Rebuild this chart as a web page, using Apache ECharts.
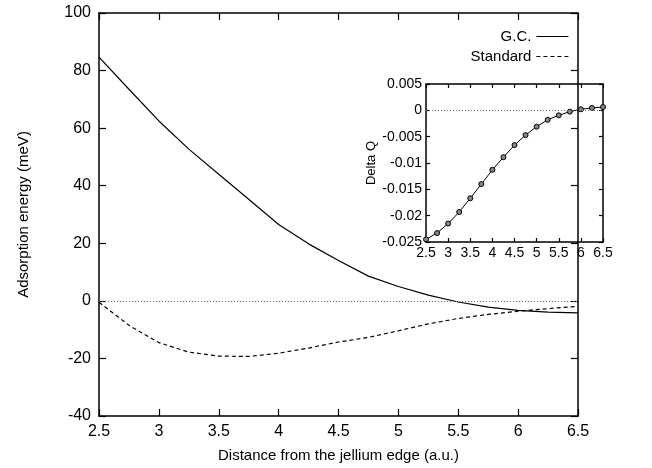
<!DOCTYPE html>
<html>
<head>
<meta charset="utf-8">
<script src="https://cdn.jsdelivr.net/npm/echarts@6/dist/echarts.min.js"></script>
<style>
  html, body { margin: 0; padding: 0; background: #fff; }
  #chart { width: 652px; height: 468px; }
</style>
</head>
<body>
<div id="chart"></div>
<script>
  // main plot: adsorption energy vs distance
  var distance = [2.5, 2.75, 3, 3.25, 3.5, 3.75, 4, 4.25, 4.5, 4.75, 5, 5.25, 5.5, 5.75, 6, 6.25, 6.5];
  var gcEnergy = [84.7, 73.5, 62.5, 52.7, 44, 35.3, 26.5, 19.8, 14, 8.6, 5, 2, -0.4, -2.2, -3.3, -3.9, -4.2];
  var stdEnergy = [-0.5, -8.5, -14.5, -17.8, -19.2, -19.3, -18.2, -16.4, -14.3, -12.7, -10.4, -8, -6.1, -4.7, -3.6, -2.7, -1.9];
  // inset: Delta Q
  var deltaQ = [-0.0245, -0.0233, -0.0215, -0.0193, -0.0167, -0.0140, -0.0113, -0.0089, -0.0066,
                -0.0047, -0.0031, -0.0018, -0.00095, -0.00025, 0.0002, 0.00045, 0.00062];
  var xTicks = { min: 2.5, max: 6.5, step: 0.5 };
  var yTicksMain = { min: -40, max: 100, step: 20 };
  var yTicksInset = { min: -0.025, max: 0.005, step: 0.005 };

  var font = "Liberation Sans, Arial, sans-serif";
  var black = "#000";

  function pairs(xs, ys) {
    return xs.map(function (x, i) { return [x, ys[i]]; });
  }

  function frameAxis(grid, pos, t, labels, fontSize, fmt) {
    return {
      type: "value",
      gridIndex: grid,
      position: pos,
      min: t.min,
      max: t.max,
      interval: t.step,
      axisLine: { show: true, onZero: false, lineStyle: { color: black, width: 1.5 } },
      axisTick: { show: true, inside: true, length: grid === 0 ? 7 : 4, lineStyle: { color: black, width: 1.2 } },
      splitLine: { show: false },
      axisLabel: {
        show: labels,
        color: black,
        fontFamily: font,
        fontSize: fontSize,
        margin: grid === 0 ? 8 : 4,
        showMinLabel: true,
        showMaxLabel: true,
        hideOverlap: false,
        formatter: fmt
      }
    };
  }

  var fmtX = function (v) { return String(+v.toFixed(2)); };
  var fmtQ = function (v) { return String(+v.toFixed(3)); };

  var xAxis = [
    frameAxis(0, "bottom", xTicks, true, 16, fmtX),
    frameAxis(0, "top", xTicks, false, 16, fmtX),
    frameAxis(1, "bottom", xTicks, true, 14, fmtX),
    frameAxis(1, "top", xTicks, false, 14, fmtX)
  ];
  xAxis[0].name = "Distance from the jellium edge (a.u.)";
  xAxis[0].nameLocation = "middle";
  xAxis[0].nameGap = 32;
  xAxis[0].nameTextStyle = { color: black, fontFamily: font, fontSize: 15 };

  var yAxis = [
    frameAxis(0, "left", yTicksMain, true, 16, fmtX),
    frameAxis(0, "right", yTicksMain, false, 16, fmtX),
    frameAxis(1, "left", yTicksInset, true, 14, fmtQ),
    frameAxis(1, "right", yTicksInset, false, 14, fmtQ)
  ];
  yAxis[0].name = "Adsorption energy (meV)";
  yAxis[0].nameLocation = "middle";
  yAxis[0].nameGap = 68;
  yAxis[0].nameTextStyle = { color: black, fontFamily: font, fontSize: 15 };
  yAxis[2].name = "Delta Q";
  yAxis[2].nameLocation = "middle";
  yAxis[2].nameGap = 47;
  yAxis[2].nameTextStyle = { color: black, fontFamily: font, fontSize: 13 };

  var zeroLine = {
    silent: true,
    symbol: "none",
    label: { show: false },
    lineStyle: { color: "#777", type: [1, 2], width: 1 },
    data: [{ yAxis: 0 }]
  };

  var option = {
    animation: false,
    backgroundColor: "#fff",
    textStyle: { fontFamily: font },
    grid: [
      { left: 99, right: 74, top: 13, bottom: 52 },
      { left: 426, right: 49, top: 84, bottom: 226 }
    ],
    legend: {
      orient: "vertical",
      right: 78,
      top: 24,
      align: "right",
      itemWidth: 32,
      itemHeight: 10,
      itemGap: 5,
      itemStyle: { opacity: 0 },
      lineStyle: { width: 1.2 },
      textStyle: { color: black, fontFamily: font, fontSize: 15 },
      data: ["G.C.", "Standard"]
    },
    xAxis: xAxis,
    yAxis: yAxis,
    series: [
      {
        name: "G.C.",
        type: "line",
        xAxisIndex: 0,
        yAxisIndex: 0,
        symbol: "none",
        lineStyle: { color: black, width: 1.2 },
        itemStyle: { color: black },
        data: pairs(distance, gcEnergy),
        markLine: zeroLine,
        z: 3
      },
      {
        name: "Standard",
        type: "line",
        xAxisIndex: 0,
        yAxisIndex: 0,
        symbol: "none",
        lineStyle: { color: black, width: 1.2, type: [4, 3] },
        itemStyle: { color: black },
        data: pairs(distance, stdEnergy),
        z: 3
      },
      {
        name: "Delta Q",
        type: "line",
        xAxisIndex: 2,
        yAxisIndex: 2,
        symbol: "circle",
        symbolSize: 5,
        lineStyle: { color: black, width: 1 },
        itemStyle: { color: "#888", borderColor: black, borderWidth: 1 },
        data: pairs(distance, deltaQ),
        markLine: zeroLine,
        z: 3
      }
    ]
  };

  var chart = echarts.init(document.getElementById("chart"));
  chart.setOption(option);
</script>
</body>
</html>
